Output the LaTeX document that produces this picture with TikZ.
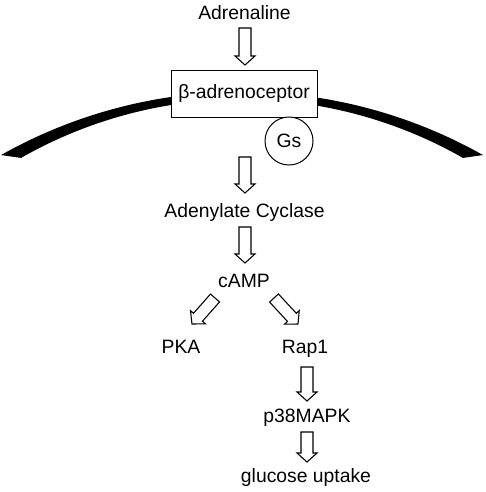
\documentclass[tikz,border=0pt]{standalone}
\usepackage{fontspec}
\setmainfont{Liberation Sans}
\usetikzlibrary{calc}
\begin{document}
\begin{tikzpicture}[x=0.75pt,y=-0.75pt,
  txt/.style={font=\fontsize{14.5}{17}\selectfont, inner sep=0pt},
  lbl/.style={txt, anchor=base},
  blk/.style={draw, fill=white, line width=0.8pt, line join=miter,
    to path={
      ($(\tikztostart)!4.5pt!90:(\tikztotarget)$)
      -- ($($(\tikztotarget)!6.75pt!(\tikztostart)$)!4.5pt!90:(\tikztotarget)$)
      -- ($($(\tikztotarget)!6.75pt!(\tikztostart)$)!7.5pt!90:(\tikztotarget)$)
      -- (\tikztotarget)
      -- ($($(\tikztotarget)!6.75pt!(\tikztostart)$)!7.5pt!-90:(\tikztotarget)$)
      -- ($($(\tikztotarget)!6.75pt!(\tikztostart)$)!4.5pt!-90:(\tikztotarget)$)
      -- ($(\tikztostart)!4.5pt!-90:(\tikztotarget)$)
      -- cycle}}]
\useasboundingbox (0,0) rectangle (485,492);
% membrane
\fill[black] plot[domain=119.4:60.6, samples=80] ({242+491*cos(\x)},{582.8-491*sin(\x)})
  -- plot[domain=60.3:119.7, samples=80] ({242+446*cos(\x)},{545.3-446*sin(\x)}) -- cycle;
% nodes
\node[lbl] (adr) at (244.5,20) {Adrenaline};
\node[txt, draw, fill=white, line width=0.75pt, minimum width=109.5pt, minimum height=34.5pt] (rec) at (244,94) {β-adrenoceptor};
\node[txt, draw, fill=white, circle, line width=0.75pt, minimum size=36pt] (gs) at (289,141) {Gs};
\node[lbl] (ac) at (244.5,217) {Adenylate Cyclase};
\node[lbl] (camp) at (244,287) {cAMP};
\node[lbl] (pka) at (181,353) {PKA};
\node[lbl] (rap) at (305,353) {Rap1};
\node[lbl] (p38) at (307,422) {p38MAPK};
\node[lbl] (glu) at (306,482) {glucose uptake};
% arrow end points
\coordinate (a1s) at (245,28);  \coordinate (a1e) at (245,65);
\coordinate (a2s) at (245,157); \coordinate (a2e) at (245,193);
\coordinate (a3s) at (245,227); \coordinate (a3e) at (245,263);
\coordinate (a4s) at (215,298); \coordinate (a4e) at (192,324);
\coordinate (a5s) at (274,298); \coordinate (a5e) at (298,324);
\coordinate (a6s) at (307,367); \coordinate (a6e) at (307,401);
\coordinate (a7s) at (307,432); \coordinate (a7e) at (307,462);
\draw[blk] (a1s) to (a1e);
\draw[blk] (a2s) to (a2e);
\draw[blk] (a3s) to (a3e);
\draw[blk] (a4s) to (a4e);
\draw[blk] (a5s) to (a5e);
\draw[blk] (a6s) to (a6e);
\draw[blk] (a7s) to (a7e);
\end{tikzpicture}
\end{document}
